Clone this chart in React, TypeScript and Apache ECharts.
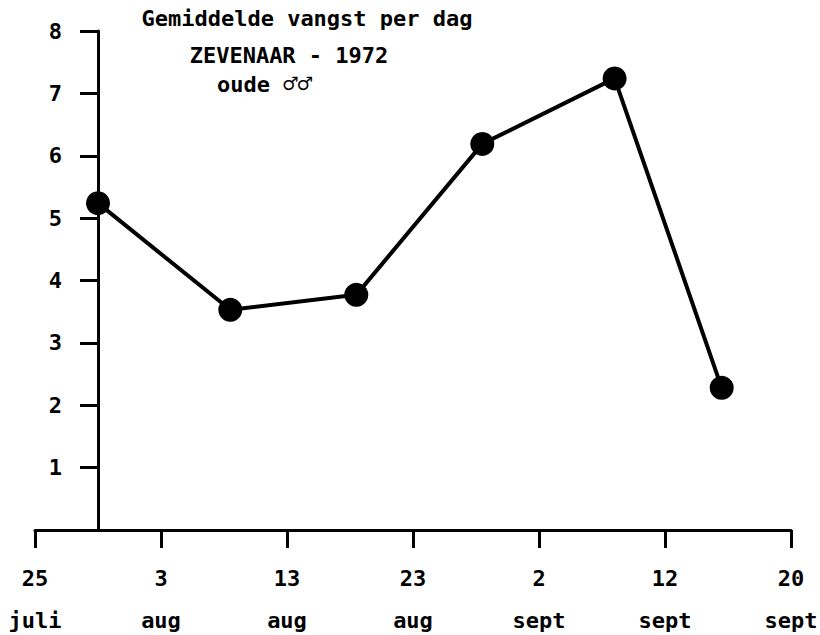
import React, { useEffect, useRef } from "react";
import * as echarts from "echarts";

const dayLabels = ["25", "3", "13", "23", "2", "12", "20"];
const monthLabels = ["juli", "aug", "aug", "aug", "sept", "sept", "sept"];
const periodPos = [0.5, 1.55, 2.55, 3.55, 4.6, 5.45];
const catchPerDay = [5.24, 3.53, 3.77, 6.19, 7.24, 2.28];
const titleLines = ["Gemiddelde vangst per dag", "ZEVENAAR - 1972", "oude ", "♂♂"];

const FONT = "'DejaVu Sans Mono', 'Liberation Mono', monospace";

export default function App() {
  const ref = useRef<HTMLDivElement>(null);
  useEffect(() => {
    if (!ref.current) return;
    const chart = echarts.init(ref.current, null, { renderer: "svg" });
    const textStyle = { fontFamily: FONT, fontWeight: "bold", fontSize: 22, color: "#000" };
    chart.setOption({
      animation: false,
      backgroundColor: "#fff",
      grid: { left: 35, right: 29, top: 31, bottom: 105, containLabel: false, outerBoundsMode: "none" },
      xAxis: [
        {
          type: "value",
          min: 0,
          max: 6,
          interval: 1,
          position: "bottom",
          splitLine: { show: false },
          axisLine: { onZero: false, lineStyle: { color: "#000", width: 3 } },
          axisTick: { show: true, inside: false, length: 18, lineStyle: { color: "#000", width: 3 } },
          axisLabel: {
            ...textStyle,
            margin: 27,
            lineHeight: 42,
            formatter: (v: number) => {
              const i = Math.round(v);
              return `${dayLabels[i]}\n${monthLabels[i]}`;
            },
          },
        },
        {
          type: "value",
          min: -0.5,
          max: 5.5,
          show: false,
        },
      ],
      yAxis: {
        type: "value",
        min: 0,
        max: 8,
        interval: 1,
        splitLine: { show: false },
        axisLine: { show: true, onZero: true, onZeroAxisIndex: 1, lineStyle: { color: "#000", width: 3 } },
        axisTick: { show: true, inside: false, length: 18, lineStyle: { color: "#000", width: 3 } },
        axisLabel: {
          ...textStyle,
          margin: -27,
          padding: [0, 0, 6, 0],
          formatter: (v: number) => (v === 0 ? "" : String(v)),
        },
      },
      graphic: [
        {
          type: "text",
          x: 307,
          y: 18,
          style: { text: titleLines[0], textAlign: "center", textVerticalAlign: "middle", font: `bold 22px ${FONT}`, fill: "#000" },
        },
        {
          type: "text",
          x: 289,
          y: 55,
          style: { text: titleLines[1], textAlign: "center", textVerticalAlign: "middle", font: `bold 22px ${FONT}`, fill: "#000" },
        },
        {
          type: "text",
          x: 217,
          y: 84,
          style: {
            text: `{a|${titleLines[2]}}{m|${titleLines[3]}}`,
            textAlign: "left",
            textVerticalAlign: "middle",
            rich: {
              a: { fontFamily: FONT, fontWeight: "bold", fontSize: 22, fill: "#000", color: "#000" },
              m: { fontFamily: FONT, fontWeight: "bold", fontSize: 24, fill: "#000", color: "#000" },
            },
          },
        },
      ],
      series: [
        {
          type: "line",
          xAxisIndex: 0,
          data: periodPos.map((x, i) => [x, catchPerDay[i]]),
          symbol: "circle",
          symbolSize: 24,
          itemStyle: { color: "#000" },
          lineStyle: { color: "#000", width: 4 },
        },
      ],
    });
    return () => chart.dispose();
  }, []);
  return <div ref={ref} style={{ width: 820, height: 635, position: "absolute", left: 0, top: 0 }} />;
}
